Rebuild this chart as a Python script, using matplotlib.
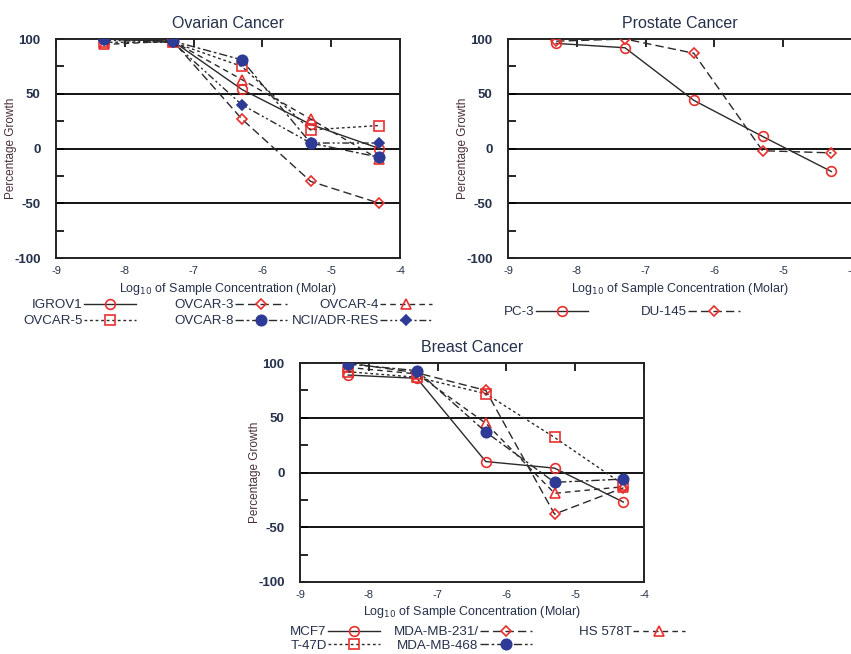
import numpy as np
import matplotlib
matplotlib.use('Agg')
import matplotlib.pyplot as plt

plt.rcParams['font.family'] = ['Liberation Sans', 'DejaVu Sans']
plt.rcParams['axes.unicode_minus'] = False

# log10 concentrations (same for all lines)
conc = [-8.3, -7.3, -6.3, -5.3, -4.3]

# Ovarian cancer
igrov1 = [100, 98, 54, 22, 0]
ovcar3 = [100, 98, 27, -30, -50]
ovcar4 = [95, 98, 63, 27, -10]
ovcar5 = [97, 97, 75, 17, 21]
ovcar8 = [100, 98, 81, 5, -8]
nci_adr = [99, 97, 40, 5, 5]

# Prostate cancer
pc3 = [96, 92, 44, 11, -21]
du145 = [98, 100, 87, -2, -4]

# Breast cancer
mcf7 = [89, 86, 10, 4, -27]
mda231 = [100, 91, 75, -38, -14]
hs578t = [96, 90, 45, -19, -13]
t47d = [92, 87, 72, 32, -11]
mda468 = [99, 93, 37, -9, -6]

RED = '#e8302f'
BLUE = '#2d3a96'
LINE = '#2a2a2a'
TXT = '#25304a'

W, H = 851, 654
fig = plt.figure(figsize=(W / 100, H / 100), dpi=100)


def make_axes(left, top):
    ax = fig.add_axes([left / W, 1 - (top + 219) / H, 344 / W, 219 / H])
    ax.set_xlim(-9, -4)
    ax.set_ylim(-100, 100)
    for y in [50, 0, -50]:
        ax.axhline(y, color='black', lw=1.3, zorder=1)
    for s in ax.spines.values():
        s.set_linewidth(1.4)
        s.set_color('#222222')
    ax.set_xticks(range(-9, -3))
    ax.set_xticklabels([str(v) for v in range(-9, -3)])
    ax.set_yticks([100, 75, 50, 25, 0, -25, -50, -75, -100])
    ax.set_yticklabels(['100', '', '50', '', '0', '', '-50', '', '-100'])
    ax.tick_params(axis='x', top=True, bottom=False, labelbottom=True, direction='in',
                   length=6, width=1.2, pad=6, labelsize=8, labelcolor=TXT)
    ax.tick_params(axis='y', left=True, right=False, direction='in', length=6, width=1.2,
                   pad=11, labelsize=9.5, labelcolor=TXT)
    for t in ax.get_yticklabels():
        t.set_fontweight('bold')
    ax.set_xlabel('Log$_{10}$ of Sample Concentration (Molar)', fontsize=9, color=TXT, labelpad=3)
    ax.set_ylabel('Percentage Growth', fontsize=8.5, color='#4a2f3a')
    ax.yaxis.set_label_coords(-0.113, 0.5)
    return ax


def series(ax, y, label, ls, marker, color, ms, filled=False):
    line, = ax.plot(conc, y, color=LINE, lw=1.0, ls=ls, marker=marker, ms=ms,
                    markeredgecolor=color, markerfacecolor=color if filled else 'none',
                    markeredgewidth=1.2, label=label, zorder=3)
    return line


def column_legend(handles, right_x, top_y, spacing=0.28):
    fig.legend(handles=handles, loc='upper right',
               bbox_to_anchor=(right_x / W, 1 - top_y / H), frameon=False,
               markerfirst=False, handlelength=3.9, handletextpad=0.1,
               borderpad=0, borderaxespad=0, labelspacing=spacing,
               prop={'size': 9.6}, labelcolor=TXT)


# ---- Ovarian ----
ax1 = make_axes(56, 39)
ax1.set_title('Ovarian Cancer', fontsize=11.5, color=TXT, pad=8)
h_igrov = series(ax1, igrov1, 'IGROV1', '-', 'o', RED, 7)
h_ov3 = series(ax1, ovcar3, 'OVCAR-3', (0, (6, 3)), 'D', RED, 5)
h_ov4 = series(ax1, ovcar4, 'OVCAR-4', (0, (4, 3)), '^', RED, 7)
h_ov5 = series(ax1, ovcar5, 'OVCAR-5', (0, (2, 2)), 's', RED, 7)
h_ov8 = series(ax1, ovcar8, 'OVCAR-8', (0, (6, 2, 2, 2)), 'o', BLUE, 7.5, True)
h_nci = series(ax1, nci_adr, 'NCI/ADR-RES', (0, (5, 2, 1.5, 2, 1.5, 2)), 'D', BLUE, 5.5, True)
column_legend([h_igrov, h_ov5], 136, 299)
column_legend([h_ov3, h_ov8], 287, 299)
column_legend([h_ov4, h_nci], 432, 299)

# ---- Prostate ----
ax2 = make_axes(508, 39)
ax2.set_title('Prostate Cancer', fontsize=11.5, color=TXT, pad=8)
h_pc3 = series(ax2, pc3, 'PC-3', '-', 'o', RED, 7)
h_du = series(ax2, du145, 'DU-145', (0, (6, 3)), 'D', RED, 5)
column_legend([h_pc3], 588, 306)
column_legend([h_du], 740, 306)

# ---- Breast ----
ax3 = make_axes(300, 363)
ax3.set_title('Breast Cancer', fontsize=11.5, color=TXT, pad=8)
h_mcf7 = series(ax3, mcf7, 'MCF7', '-', 'o', RED, 7)
h_231 = series(ax3, mda231, 'MDA-MB-231/', (0, (6, 3)), 'D', RED, 5)
h_hs = series(ax3, hs578t, 'HS 578T', (0, (4, 3)), '^', RED, 7)
h_t47 = series(ax3, t47d, 'T-47D', (0, (2, 2)), 's', RED, 7)
h_468 = series(ax3, mda468, 'MDA-MB-468', (0, (6, 2, 2, 2)), 'o', BLUE, 7.5, True)
column_legend([h_mcf7, h_t47], 380, 626, 0.1)
column_legend([h_231, h_468], 532, 626, 0.1)
column_legend([h_hs], 685, 626, 0.1)

fig.savefig('out.png', dpi=100)
